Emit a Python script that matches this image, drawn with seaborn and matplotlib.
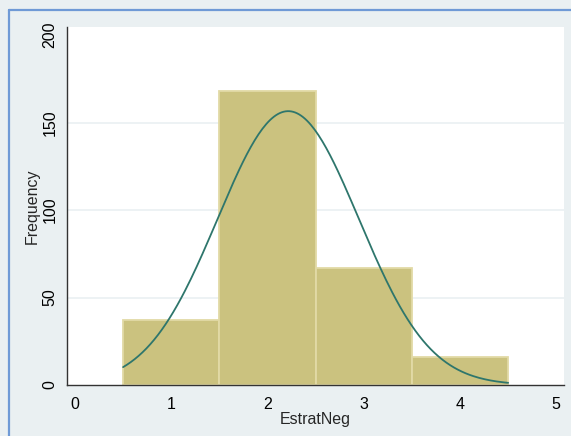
# Histogram of EstratNeg with a normal density overlay (Stata look)

import numpy as np
import pandas as pd
import matplotlib
matplotlib.use("Agg")
import matplotlib.pyplot as plt
from matplotlib.lines import Line2D
import seaborn as sns

# ---- data ----
bin_centers = [1, 2, 3, 4]
counts = [37, 168, 67, 16]
bin_edges = [0.5, 1.5, 2.5, 3.5, 4.5]
x_ticks = [0, 1, 2, 3, 4, 5]
y_ticks = [0, 50, 100, 150, 200]

df = pd.DataFrame({"EstratNeg": bin_centers, "n": counts})

# normal curve scaled to frequency (mean/sd of the binned data)
n_tot = sum(counts)
mu = np.average(bin_centers, weights=counts)
sd = np.sqrt(np.sum(np.array(counts) * (np.array(bin_centers) - mu) ** 2) / (n_tot - 1))
width = bin_edges[1] - bin_edges[0]
xs = np.linspace(bin_edges[0], bin_edges[-1], 200)
curve = pd.DataFrame({
    "x": xs,
    "y": n_tot * width / (sd * np.sqrt(2 * np.pi)) * np.exp(-0.5 * ((xs - mu) / sd) ** 2),
})

# ---- style ----
sns.set_style("white")
plt.rcParams["font.family"] = ["Liberation Sans", "DejaVu Sans"]

bg = "#EAF0F2"
fs = 11.5
fig = plt.figure(figsize=(5.71, 4.36), dpi=100, facecolor=bg)
ax = fig.add_axes([0.1173, 0.117, 0.8704, 0.821])
ax.set_facecolor("white")

sns.histplot(data=df, x="EstratNeg", weights="n", bins=bin_edges, ax=ax,
             color="#CBC27F", edgecolor="#E2DAA6", linewidth=1.3, alpha=1)
sns.lineplot(data=curve, x="x", y="y", ax=ax, color="#2E766C", linewidth=1.3)

ax.set_xlim(-0.083, 5.08)
ax.set_ylim(0, 204.6)
ax.set_xticks(x_ticks)
ax.set_yticks(y_ticks)
ax.set_yticklabels([str(v) for v in y_ticks], rotation=90, va="center")
for v in y_ticks[1:-1]:
    ax.axhline(v, color="#EAF0F2", linewidth=1.2, zorder=0)

ax.tick_params(axis="both", direction="out", length=5, width=1, color="#555555",
               labelsize=fs, labelcolor="black")
ax.tick_params(axis="x", pad=4)
ax.tick_params(axis="y", pad=2)

for s in ["top", "right"]:
    ax.spines[s].set_visible(False)
for s in ["left", "bottom"]:
    ax.spines[s].set_color("#333333")
    ax.spines[s].set_linewidth(1)

ax.set_xlabel("EstratNeg", fontsize=fs, labelpad=0)
ax.set_ylabel("Frequency", fontsize=fs, labelpad=2)

# window frame on the left and top
fig.add_artist(Line2D([8.5 / 571, 8.5 / 571], [0, 1 - 10 / 436],
                      transform=fig.transFigure, color="#6F9AD6", linewidth=1.6))
fig.add_artist(Line2D([8.5 / 571, 1], [1 - 10 / 436, 1 - 10 / 436],
                      transform=fig.transFigure, color="#6F9AD6", linewidth=1.6))

fig.savefig("out.png", dpi=100, facecolor=bg)
